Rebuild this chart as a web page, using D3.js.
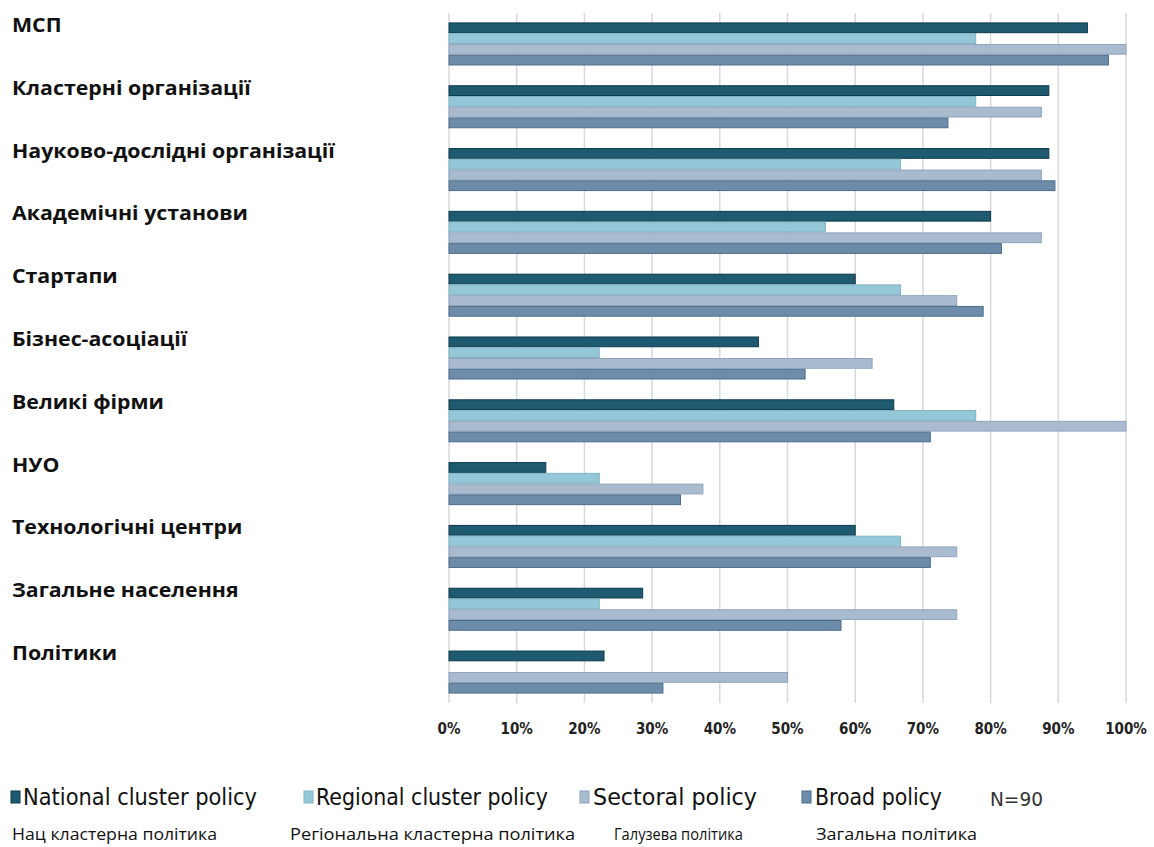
<!DOCTYPE html>
<html>
<head>
<meta charset="utf-8">
<script src="https://cdn.jsdelivr.net/npm/d3@7"></script>
<style>
  body { margin: 0; background: #fff; }
  svg { display: block; }
  .cat-label { font-family: "Open Sans", "Noto Sans", sans-serif; font-weight: 700; fill: #111; }
  .tick-label { font-family: "Liberation Sans Narrow", "DejaVu Sans Condensed", "Liberation Sans", sans-serif; font-weight: 700; fill: #222; }
  .legend-en { font-family: "Liberation Sans Narrow", "DejaVu Sans Condensed", "Liberation Sans", sans-serif; fill: #111; }
  .legend-ua { font-family: "Open Sans", "Noto Sans", sans-serif; fill: #111; }
</style>
</head>
<body>
<div id="chart"></div>
<script>
// categories (top to bottom)
const categories = [
  "МСП",
  "Кластерні організації",
  "Науково-дослідні організації",
  "Академічні установи",
  "Стартапи",
  "Бізнес-асоціації",
  "Великі фірми",
  "НУО",
  "Технологічні центри",
  "Загальне населення",
  "Політики"
];

// series names (legend)
const seriesEn = ["National cluster policy", "Regional cluster policy", "Sectoral policy", "Broad policy"];
const seriesUa = ["Нац кластерна політика", "Регіональна кластерна політика", "Галузева політика", "Загальна політика"];

// shares, in %
const national = [94.3, 88.6, 88.6, 80.0, 60.0, 45.7, 65.7, 14.3, 60.0, 28.6, 22.9];
const regional = [77.8, 77.8, 66.7, 55.6, 66.7, 22.2, 77.8, 22.2, 66.7, 22.2, 0];
const sectoral = [100, 87.5, 87.5, 87.5, 75.0, 62.5, 100, 37.5, 75.0, 75.0, 50.0];
const broad    = [97.4, 73.7, 89.5, 81.6, 78.9, 52.6, 71.1, 34.2, 71.1, 57.9, 31.6];

const xTicks = [0, 10, 20, 30, 40, 50, 60, 70, 80, 90, 100];
const sampleNote = "N=90";

const fills   = ["#1e5b70", "#94c8d8", "#a9bccf", "#6d8caa"];
const strokes = ["#0c3a4b", "#7fb3c5", "#8fa4bb", "#4d6d8c"];

const W = 1154, H = 847;

const svg = d3.select("#chart")
  .append("svg")
  .attr("width", W)
  .attr("height", H);

const x = d3.scaleLinear().domain([0, 100]).range([449, 1126]);

const y = d3.scaleBand()
  .domain(categories)
  .range([13, 703])
  .paddingInner(0.315)
  .paddingOuter(0.15);

const ySub = d3.scaleBand()
  .domain(d3.range(seriesEn.length))
  .range([0, y.bandwidth()]);

const allSeries = [national, regional, sectoral, broad];

// vertical gridlines
svg.append("g")
  .selectAll("line")
  .data(xTicks)
  .join("line")
  .attr("x1", d => x(d))
  .attr("x2", d => x(d))
  .attr("y1", 13)
  .attr("y2", 703)
  .attr("stroke", "#d9d9d9")
  .attr("stroke-width", 1.5);

// bars
const groups = svg.append("g")
  .selectAll("g")
  .data(categories)
  .join("g")
  .attr("transform", d => "translate(0," + y(d) + ")");

groups.selectAll("rect")
  .data((d, i) => allSeries.map((s, k) => ({ k: k, v: s[i] })))
  .join("rect")
  .filter(d => d.v > 0)
  .attr("x", x(0))
  .attr("y", d => ySub(d.k) + 0.5)
  .attr("width", d => x(d.v) - x(0))
  .attr("height", ySub.bandwidth() - 1)
  .attr("fill", d => fills[d.k])
  .attr("stroke", d => strokes[d.k])
  .attr("stroke-width", 1);

// category labels (the source picture is a bit stretched sideways)
const catG = svg.append("g");
catG.selectAll("text")
  .data(categories)
  .join("text")
  .attr("class", "cat-label")
  .attr("x", 0)
  .attr("y", d => y(d) + 9.5)
  .attr("font-size", 19.5)
  .text(d => d);

const longest = d3.max(catG.selectAll("text").nodes(), n => n.getComputedTextLength());
catG.attr("transform", "translate(12,0) scale(" + (323 / longest) + ",1)");

// x tick labels
svg.append("g")
  .selectAll("text")
  .data(xTicks)
  .join("text")
  .attr("class", "tick-label")
  .attr("x", d => x(d))
  .attr("y", 734)
  .attr("text-anchor", "middle")
  .attr("font-size", 15)
  .text(d => d + "%");

// legend, english row
const legX = [11, 304, 580, 802];
const legTextX = [23, 316, 593, 815];
const legW = [234, 232, 164, 127];

const leg = svg.append("g");
leg.selectAll("rect")
  .data(seriesEn)
  .join("rect")
  .attr("x", (d, i) => legX[i])
  .attr("y", 791)
  .attr("width", 9)
  .attr("height", 12)
  .attr("fill", (d, i) => fills[i])
  .attr("stroke", (d, i) => strokes[i]);

leg.selectAll("text.legend-en")
  .data(seriesEn)
  .join("text")
  .attr("class", "legend-en")
  .attr("x", (d, i) => legTextX[i])
  .attr("y", 805)
  .attr("font-size", 23)
  .attr("textLength", (d, i) => legW[i])
  .attr("lengthAdjust", "spacingAndGlyphs")
  .text(d => d);

leg.append("text")
  .attr("class", "legend-en")
  .attr("x", 990)
  .attr("y", 806)
  .attr("font-size", 19)
  .style("fill", "#333")
  .attr("textLength", 53)
  .attr("lengthAdjust", "spacingAndGlyphs")
  .text(sampleNote);

// legend, ukrainian row
const uaX = [12, 290, 614, 816];
const uaW = [205, 285, 129, 161];
leg.selectAll("text.legend-ua")
  .data(seriesUa)
  .join("text")
  .attr("class", "legend-ua")
  .attr("x", (d, i) => uaX[i])
  .attr("y", 840)
  .attr("font-size", 16)
  .attr("textLength", (d, i) => uaW[i])
  .attr("lengthAdjust", "spacingAndGlyphs")
  .text(d => d);
</script>
</body>
</html>
